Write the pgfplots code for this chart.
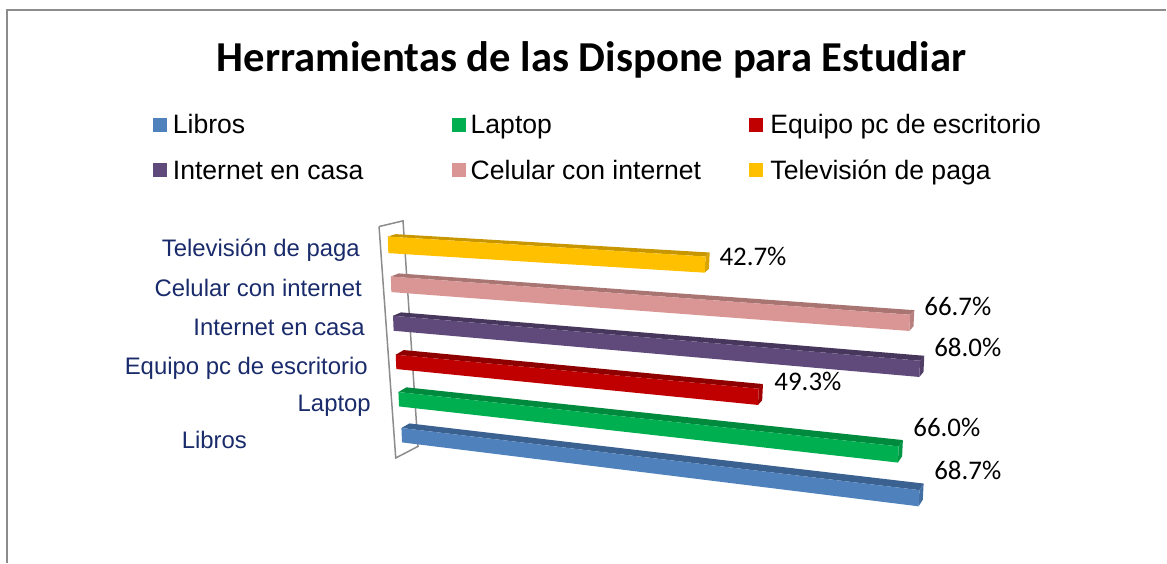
\documentclass[border=0pt]{standalone}
\usepackage{fontspec}
\setmainfont{Liberation Sans}
\newfontfamily\carlito{Carlito}
\usepackage{pgfplots}
\usepackage{pgfplotstable}
\pgfplotsset{compat=1.18}
\definecolor{bluF}{HTML}{4F81BD}\definecolor{bluT}{HTML}{3B6190}\definecolor{bluS}{HTML}{446FA3}
\definecolor{greF}{HTML}{00B050}\definecolor{greT}{HTML}{008A3E}\definecolor{greS}{HTML}{009744}
\definecolor{redF}{HTML}{C00000}\definecolor{redT}{HTML}{8E0000}\definecolor{redS}{HTML}{A00000}
\definecolor{purF}{HTML}{604A7B}\definecolor{purT}{HTML}{47375C}\definecolor{purS}{HTML}{503E67}
\definecolor{pinF}{HTML}{D99694}\definecolor{pinT}{HTML}{A87573}\definecolor{pinS}{HTML}{B88180}
\definecolor{yelF}{HTML}{FFC000}\definecolor{yelT}{HTML}{C79600}\definecolor{yelS}{HTML}{D9A300}
\definecolor{catblue}{HTML}{1A2B6B}
\definecolor{framegray}{HTML}{8C8C8C}
\tikzset{lab/.style={inner sep=0pt,outer sep=0pt}}
\pgfplotstableread{
s h d
0 0 0
1 0 0
1 1 0
0 1 0
}\FrontT
\pgfplotstableread{
s h d
0 0 0
1 0 0
1 0 1
0 0 1
}\TopT
\pgfplotstableread{
s h d
1 0 0
1 0 1
1 1 1
1 1 0
}\EndT
% #1 colour prefix, #2 value in percent, #3 #4 bar origin, #5 #6 pixels per percent,
% #7 thickness at the wall, #8 #9 depth rise at the wall and at the end
\newcommand{\PBar}[9]{%
 \addplot[fill=#1T,draw=none] table[
   x expr=#3+\thisrow{s}*#2*#5+\thisrow{d}*(8-3.8*\thisrow{s})+\thisrow{h}*(0.6-1.4*\thisrow{s}),
   y expr=#4+\thisrow{s}*#2*#6+\thisrow{h}*(#7+(16.2-#7)*\thisrow{s})-\thisrow{d}*(#8+(#9-#8)*\thisrow{s})] {\TopT};
 \addplot[fill=#1S,draw=none] table[
   x expr=#3+\thisrow{s}*#2*#5+\thisrow{d}*(8-3.8*\thisrow{s})+\thisrow{h}*(0.6-1.4*\thisrow{s}),
   y expr=#4+\thisrow{s}*#2*#6+\thisrow{h}*(#7+(16.2-#7)*\thisrow{s})-\thisrow{d}*(#8+(#9-#8)*\thisrow{s})] {\EndT};
 \addplot[fill=#1F,draw=none] table[
   x expr=#3+\thisrow{s}*#2*#5+\thisrow{d}*(8-3.8*\thisrow{s})+\thisrow{h}*(0.6-1.4*\thisrow{s}),
   y expr=#4+\thisrow{s}*#2*#6+\thisrow{h}*(#7+(16.2-#7)*\thisrow{s})-\thisrow{d}*(#8+(#9-#8)*\thisrow{s})] {\FrontT};
}
\begin{document}
\begin{tikzpicture}
\begin{axis}[
  width=1167pt,height=563pt,scale only axis,
  xmin=0,xmax=1167,ymin=0,ymax=563,y dir=reverse,
  hide axis,clip=false,
]
\path (axis cs:0,0) rectangle (axis cs:1167,563);
% chart frame
\addplot[color=framegray,line width=1.6pt] coordinates {(7,563) (7,10) (1167,10)};
% side wall
\addplot[color=framegray,line width=1.5pt] coordinates {(379.3,226.7) (403.3,221) (418.3,446.7) (396,458.3) (379.3,226.7)};
% bars
\PBar{blu}{68.7}{401.7}{428.3}{7.545}{0.905}{14.4}{4.6}{6.6}
\PBar{gre}{66.0}{398.7}{392.3}{7.585}{0.824}{14.4}{4.7}{6.3}
\PBar{red}{49.3}{396.0}{355.0}{7.369}{0.690}{14.3}{4.7}{4.7}
\PBar{pur}{68.0}{393.3}{316.0}{7.756}{0.662}{15.0}{3.4}{5.0}
\PBar{pin}{66.7}{391.0}{276.7}{7.792}{0.574}{15.6}{3.1}{4.6}
\PBar{yel}{42.7}{388.0}{236.7}{7.447}{0.468}{16.6}{2.4}{4.0}
% legend swatches
\addplot[fill=bluF,draw=none] coordinates {(153,118) (167,118) (167,132) (153,132)};
\addplot[fill=greF,draw=none] coordinates {(452,118) (466,118) (466,132) (452,132)};
\addplot[fill=redF,draw=none] coordinates {(750,118) (764,118) (764,132) (750,132)};
\addplot[fill=purF,draw=none] coordinates {(153,163) (167,163) (167,177) (153,177)};
\addplot[fill=pinF,draw=none] coordinates {(452,163) (466,163) (466,177) (452,177)};
\addplot[fill=yelF,draw=none] coordinates {(750,163) (764,163) (764,177) (750,177)};
% title
\node[lab,anchor=base] at (axis cs:592,72) {\carlito\bfseries\fontsize{42.65}{48}\selectfont Herramientas de las Dispone para Estudiar};
% legend text
\node[lab,anchor=base west] at (axis cs:173,134) {\fontsize{26.6}{30}\selectfont Libros};
\node[lab,anchor=base west] at (axis cs:471,134) {\fontsize{26.6}{30}\selectfont Laptop};
\node[lab,anchor=base west] at (axis cs:771,134) {\fontsize{26.6}{30}\selectfont Equipo pc de escritorio};
\node[lab,anchor=base west] at (axis cs:173,180) {\fontsize{26.6}{30}\selectfont Internet en casa};
\node[lab,anchor=base west] at (axis cs:471,180) {\fontsize{26.6}{30}\selectfont Celular con internet};
\node[lab,anchor=base west] at (axis cs:771,180) {\fontsize{26.6}{30}\selectfont Televisión de paga};
% category labels
\node[lab,anchor=base east,text=catblue] at (axis cs:360,257) {\fontsize{23.9}{28}\selectfont Televisión de paga};
\node[lab,anchor=base east,text=catblue] at (axis cs:362,297) {\fontsize{23.9}{28}\selectfont Celular con internet};
\node[lab,anchor=base east,text=catblue] at (axis cs:365,336) {\fontsize{23.9}{28}\selectfont Internet en casa};
\node[lab,anchor=base east,text=catblue] at (axis cs:368,375) {\fontsize{23.9}{28}\selectfont Equipo pc de escritorio};
\node[lab,anchor=base east,text=catblue] at (axis cs:371,412) {\fontsize{23.9}{28}\selectfont Laptop};
\node[lab,anchor=base east,text=catblue] at (axis cs:247,449) {\fontsize{23.9}{28}\selectfont Libros};
% value labels
\node[lab,anchor=base west] at (axis cs:720,266) {\carlito\fontsize{26.9}{30}\selectfont 42.7\%};
\node[lab,anchor=base west] at (axis cs:925,316) {\carlito\fontsize{26.9}{30}\selectfont 66.7\%};
\node[lab,anchor=base west] at (axis cs:935,357) {\carlito\fontsize{26.9}{30}\selectfont 68.0\%};
\node[lab,anchor=base west] at (axis cs:775,391) {\carlito\fontsize{26.9}{30}\selectfont 49.3\%};
\node[lab,anchor=base west] at (axis cs:914,437) {\carlito\fontsize{26.9}{30}\selectfont 66.0\%};
\node[lab,anchor=base west] at (axis cs:935,480) {\carlito\fontsize{26.9}{30}\selectfont 68.7\%};
\end{axis}
\end{tikzpicture}
\end{document}
